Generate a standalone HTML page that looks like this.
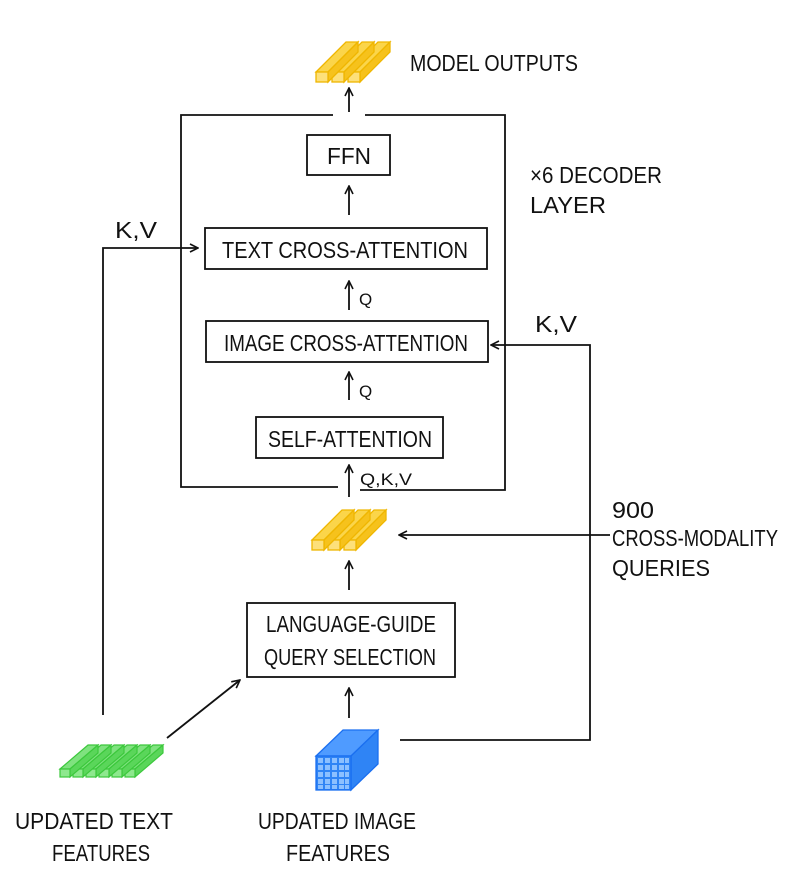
<!DOCTYPE html>
<html><head><meta charset="utf-8"><style>
html,body{margin:0;padding:0;background:#fff;}
svg{display:block;}
text{font-family:"Liberation Sans Narrow","Liberation Sans",sans-serif;fill:#111;}
</style></head><body>
<svg width="800" height="878" viewBox="0 0 800 878" xmlns="http://www.w3.org/2000/svg">
<defs>
<marker id="ah" markerWidth="10" markerHeight="10" refX="9" refY="5" orient="auto" markerUnits="userSpaceOnUse">
<path d="M1,1 L9,5 L1,9" fill="none" stroke="#111" stroke-width="1.6"/>
</marker>
<g id="ybar">
<polygon points="0,30 30,0 42,0 12,30" fill="#fbd54a" stroke="#efb600" stroke-width="1.3"/>
<polygon points="12,30 42,0 42,10 12,40" fill="#f6c21c" stroke="#efb600" stroke-width="1.3"/>
<rect x="0" y="30" width="12" height="10" fill="#fde07a" stroke="#efb600" stroke-width="1.3"/>
</g>
<g id="gbar">
<polygon points="0,24 28,0 38,0 10,24" fill="#7fe27f" stroke="#3cc83c" stroke-width="1.2"/>
<polygon points="10,24 38,0 38,8 10,32" fill="#5ad65a" stroke="#3cc83c" stroke-width="1.2"/>
<rect x="0" y="24" width="10" height="8" fill="#8ee88e" stroke="#3cc83c" stroke-width="1.2"/>
</g>
</defs>
<g stroke="#111" stroke-width="1.8" fill="none">
<!-- frame -->
<polyline points="333,115 181,115 181,487 338,487"/>
<polyline points="365,115 505,115 505,490 360,490"/>
<!-- boxes -->
<rect x="307" y="135" width="83" height="40"/>
<rect x="205" y="228" width="282" height="41"/>
<rect x="206" y="321" width="282" height="41"/>
<rect x="256" y="417" width="187" height="41"/>
<rect x="247" y="603" width="208" height="74"/>
<!-- vertical arrows -->
<line x1="349" y1="112" x2="349" y2="88" marker-end="url(#ah)"/>
<line x1="349" y1="215" x2="349" y2="186" marker-end="url(#ah)"/>
<line x1="349" y1="310" x2="349" y2="281" marker-end="url(#ah)"/>
<line x1="349" y1="400" x2="349" y2="372" marker-end="url(#ah)"/>
<line x1="349" y1="497" x2="349" y2="465" marker-end="url(#ah)"/>
<line x1="349" y1="590" x2="349" y2="561" marker-end="url(#ah)"/>
<line x1="349" y1="718" x2="349" y2="688" marker-end="url(#ah)"/>
<!-- K,V left -->
<polyline points="103,715 103,248 198,248" marker-end="url(#ah)"/>
<!-- K,V right -->
<polyline points="400,740 590,740 590,345 491,345" marker-end="url(#ah)"/>
<!-- queries arrow -->
<line x1="610" y1="535" x2="399" y2="535" marker-end="url(#ah)"/>
<!-- diagonal -->
<line x1="167" y1="738" x2="240" y2="680" marker-end="url(#ah)"/>
</g>
<!-- yellow bars top -->
<use href="#ybar" x="348" y="42"/><use href="#ybar" x="332" y="42"/><use href="#ybar" x="316" y="42"/>
<!-- yellow bars mid -->
<use href="#ybar" x="344" y="510"/><use href="#ybar" x="328" y="510"/><use href="#ybar" x="312" y="510"/>
<!-- green bars -->
<use href="#gbar" x="125" y="745"/><use href="#gbar" x="112" y="745"/><use href="#gbar" x="99" y="745"/><use href="#gbar" x="86" y="745"/><use href="#gbar" x="73" y="745"/><use href="#gbar" x="60" y="745"/>
<!-- blue cube -->
<g stroke="#1a6ff0" stroke-width="1.3">
<polygon points="316,756 343,730 378,730 351,756" fill="#4f9bff"/>
<polygon points="351,756 378,730 378,764 351,790" fill="#2f84f5"/>
<rect x="316" y="756" width="35" height="34" fill="#2f84f5"/>
</g>
<g fill="#8cc0ff">
<rect x="318" y="758" width="5" height="5"/><rect x="325" y="758" width="5" height="5"/><rect x="332" y="758" width="5" height="5"/><rect x="339" y="758" width="5" height="5"/><rect x="345" y="758" width="4" height="5"/>
<rect x="318" y="765" width="5" height="5"/><rect x="325" y="765" width="5" height="5"/><rect x="332" y="765" width="5" height="5"/><rect x="339" y="765" width="5" height="5"/><rect x="345" y="765" width="4" height="5"/>
<rect x="318" y="772" width="5" height="5"/><rect x="325" y="772" width="5" height="5"/><rect x="332" y="772" width="5" height="5"/><rect x="339" y="772" width="5" height="5"/><rect x="345" y="772" width="4" height="5"/>
<rect x="318" y="779" width="5" height="5"/><rect x="325" y="779" width="5" height="5"/><rect x="332" y="779" width="5" height="5"/><rect x="339" y="779" width="5" height="5"/><rect x="345" y="779" width="4" height="5"/>
<rect x="318" y="785" width="5" height="4"/><rect x="325" y="785" width="5" height="4"/><rect x="332" y="785" width="5" height="4"/><rect x="339" y="785" width="5" height="4"/><rect x="345" y="785" width="4" height="4"/>
</g>
<g font-size="23">
<text x="410" y="71" textLength="168" lengthAdjust="spacingAndGlyphs">MODEL OUTPUTS</text>
<text x="327" y="164" textLength="44" lengthAdjust="spacingAndGlyphs">FFN</text>
<text x="222" y="258" textLength="246" lengthAdjust="spacingAndGlyphs">TEXT CROSS-ATTENTION</text>
<text x="224" y="351" textLength="244" lengthAdjust="spacingAndGlyphs">IMAGE CROSS-ATTENTION</text>
<text x="268" y="447" textLength="164" lengthAdjust="spacingAndGlyphs">SELF-ATTENTION</text>
<text x="266" y="632" textLength="170" lengthAdjust="spacingAndGlyphs">LANGUAGE-GUIDE</text>
<text x="264" y="665" textLength="172" lengthAdjust="spacingAndGlyphs">QUERY SELECTION</text>
<text x="530" y="183" textLength="132" lengthAdjust="spacingAndGlyphs">×6 DECODER</text>
<text x="530" y="213" textLength="76" lengthAdjust="spacingAndGlyphs">LAYER</text>
<text x="115" y="238" textLength="42" lengthAdjust="spacingAndGlyphs">K,V</text>
<text x="535" y="332" textLength="42" lengthAdjust="spacingAndGlyphs">K,V</text>
<text x="612" y="518" textLength="42" lengthAdjust="spacingAndGlyphs">900</text>
<text x="612" y="546" textLength="166" lengthAdjust="spacingAndGlyphs">CROSS-MODALITY</text>
<text x="612" y="576" textLength="98" lengthAdjust="spacingAndGlyphs">QUERIES</text>
<text x="15" y="829" textLength="158" lengthAdjust="spacingAndGlyphs">UPDATED TEXT</text>
<text x="52" y="861" textLength="98" lengthAdjust="spacingAndGlyphs">FEATURES</text>
<text x="258" y="829" textLength="158" lengthAdjust="spacingAndGlyphs">UPDATED IMAGE</text>
<text x="286" y="861" textLength="104" lengthAdjust="spacingAndGlyphs">FEATURES</text>
</g>
<g font-size="17">
<text x="359" y="305">Q</text>
<text x="359" y="397">Q</text>
<text x="360" y="485" textLength="52" lengthAdjust="spacingAndGlyphs">Q,K,V</text>
</g>
</svg>
</body></html>
